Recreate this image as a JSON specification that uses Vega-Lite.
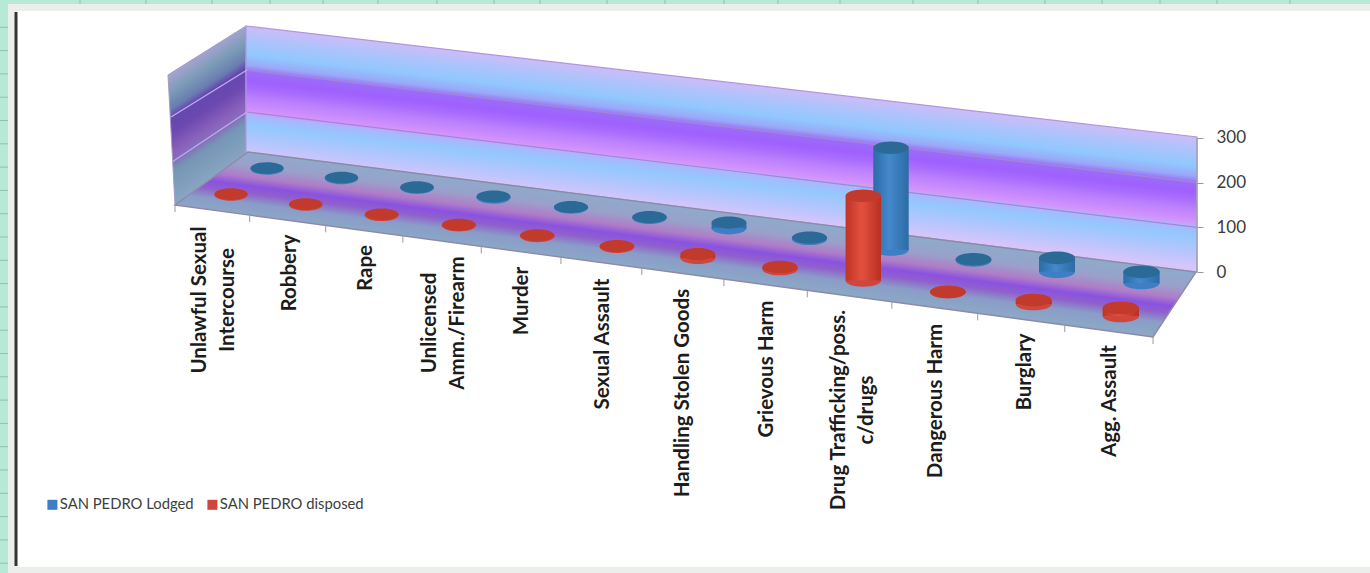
{
"$schema":"https://vega.github.io/schema/vega-lite/v6.json",
"width":1370,"height":573,"autosize":"none","padding":0,"background":"#b8e8d6",
"config":{"view":{"stroke":null}},
"datasets":{
"bars":[
{"crime":"Unlawful Sexual Intercourse","series":"SAN PEDRO Lodged","value":2},
{"crime":"Robbery","series":"SAN PEDRO Lodged","value":2},
{"crime":"Rape","series":"SAN PEDRO Lodged","value":2},
{"crime":"Unlicensed Amm./Firearm","series":"SAN PEDRO Lodged","value":3},
{"crime":"Murder","series":"SAN PEDRO Lodged","value":2},
{"crime":"Sexual Assault","series":"SAN PEDRO Lodged","value":2},
{"crime":"Handling Stolen Goods","series":"SAN PEDRO Lodged","value":13},
{"crime":"Grievous Harm","series":"SAN PEDRO Lodged","value":3},
{"crime":"Drug Trafficking/poss. c/drugs","series":"SAN PEDRO Lodged","value":228},
{"crime":"Dangerous Harm","series":"SAN PEDRO Lodged","value":3},
{"crime":"Burglary","series":"SAN PEDRO Lodged","value":31},
{"crime":"Agg. Assault","series":"SAN PEDRO Lodged","value":25},
{"crime":"Unlawful Sexual Intercourse","series":"SAN PEDRO disposed","value":2},
{"crime":"Robbery","series":"SAN PEDRO disposed","value":2},
{"crime":"Rape","series":"SAN PEDRO disposed","value":2},
{"crime":"Unlicensed Amm./Firearm","series":"SAN PEDRO disposed","value":2},
{"crime":"Murder","series":"SAN PEDRO disposed","value":2},
{"crime":"Sexual Assault","series":"SAN PEDRO disposed","value":2},
{"crime":"Handling Stolen Goods","series":"SAN PEDRO disposed","value":9},
{"crime":"Grievous Harm","series":"SAN PEDRO disposed","value":5},
{"crime":"Drug Trafficking/poss. c/drugs","series":"SAN PEDRO disposed","value":190},
{"crime":"Dangerous Harm","series":"SAN PEDRO disposed","value":1},
{"crime":"Burglary","series":"SAN PEDRO disposed","value":9},
{"crime":"Agg. Assault","series":"SAN PEDRO disposed","value":18}
],
"labels":[
{"label":"Unlawful Sexual\nIntercourse"},{"label":"Robbery"},{"label":"Rape"},{"label":"Unlicensed\nAmm./Firearm"},{"label":"Murder"},{"label":"Sexual Assault"},{"label":"Handling Stolen Goods"},{"label":"Grievous Harm"},{"label":"Drug Trafficking/poss.\nc/drugs"},{"label":"Dangerous Harm"},{"label":"Burglary"},{"label":"Agg. Assault"}
],
"sheet":[{"part":"frame"},{"part":"panel"}],
"edge":[{"part":"edge"}],
"rowsGrid":[{"n":1},{"n":2},{"n":3},{"n":4},{"n":5},{"n":6},{"n":7},{"n":8},{"n":9},{"n":10},{"n":11},{"n":12},{"n":13},{"n":14},{"n":15},{"n":16},{"n":17},{"n":18},{"n":19},{"n":20},{"n":21},{"n":22},{"n":23},{"n":24}],
"colsGrid":[{"col":80},{"col":146},{"col":212},{"col":270},{"col":323},{"col":378},{"col":437},{"col":494},{"col":540},{"col":607},{"col":665},{"col":724},{"col":778},{"col":840},{"col":913},{"col":978},{"col":1045},{"col":1102},{"col":1160},{"col":1217},{"col":1290}],
"backWall":[{"c":"a"},{"c":"b"}],
"sideWall":[{"c":"a"},{"c":"b"},{"c":"c"}],
"floor":[{"c":"a"},{"c":"b"},{"c":"d"},{"c":"e"}],
"levels":[{"level":100},{"level":200}],
"axisLine":[{"level":0}],
"ticks":[{"j":0},{"j":1},{"j":2},{"j":3},{"j":4},{"j":5},{"j":6},{"j":7},{"j":8},{"j":9},{"j":10},{"j":11},{"j":12}]
},
"data":{"name":"bars"},
"transform":[
{"window":[{"op":"row_number","as":"rn"}],"groupby":["series"]},
{"calculate":"datum.rn-1","as":"i"},
{"calculate":"datum.series=='SAN PEDRO Lodged'?267+datum.i*(74+0.5*datum.i):231+datum.i*(74.1+0.617*datum.i)","as":"px"},
{"calculate":"datum.series=='SAN PEDRO Lodged'?169+datum.i*(9.33+0.094*datum.i):195+datum.i*(9.9+0.1*datum.i)","as":"base"},
{"calculate":"(272-datum.base)/0.4467","as":"py0"},
{"calculate":"datum.py0+datum.value","as":"py"},
{"calculate":"16.5+0.15*datum.i","as":"rx"},
{"calculate":"datum.px-datum.rx","as":"pl"},
{"calculate":"datum.px+datum.rx","as":"pr"},
{"calculate":"4*datum.rx*datum.rx","as":"sz"}
],
"encoding":{
"x":{"field":"px","type":"quantitative","axis":null,"scale":{"domain":[0,1370],"nice":false,"zero":false}},
"y":{"field":"py","type":"quantitative","title":null,"scale":{"domain":[-673.8,608.9],"nice":false,"zero":false},
"axis":{"values":[0,100,200,300],"orient":"right","offset":-173,"domain":false,"grid":false,"tickSize":6,"tickColor":"#999999","labelFont":"Lato","labelFontSize":17,"labelColor":"#3a3a3a","labelPadding":13,"labelOverlap":false,"labelFlush":false,"labelBound":false,"title":null,"zindex":1}}
},
"layer":[
{"data":{"name":"rowsGrid"},"transform":[{"calculate":"0","as":"px"},{"calculate":"8","as":"pr"},{"calculate":"(272-(4+23.3*datum.n))/0.4467","as":"py"}],
 "mark":{"type":"rule","stroke":"#8cc4ac","strokeWidth":1},"encoding":{"x2":{"field":"pr"}}},
{"data":{"name":"colsGrid"},"transform":[{"calculate":"datum.col","as":"px"},{"calculate":"272/0.4467","as":"py"},{"calculate":"(272-4)/0.4467","as":"py2"}],
 "mark":{"type":"rule","stroke":"#8cc4ac","strokeWidth":1},"encoding":{"y2":{"field":"py2"}}},
{"data":{"name":"sheet"},"transform":[
 {"calculate":"datum.part=='frame'?8:17","as":"px"},{"calculate":"1370","as":"pr"},
 {"calculate":"(272-(datum.part=='frame'?4:11))/0.4467","as":"py"},{"calculate":"(272-(datum.part=='frame'?573:567))/0.4467","as":"py2"}],
 "mark":{"type":"rect"},"encoding":{"x2":{"field":"pr"},"y2":{"field":"py2"},"fill":{"field":"part","type":"nominal","legend":null,"scale":{"domain":["frame","panel"],"range":["#eceeec","#ffffff"]}}}},
{"data":{"name":"edge"},"transform":[{"calculate":"16","as":"px"},{"calculate":"(272-12)/0.4467","as":"py"},{"calculate":"(272-566)/0.4467","as":"py2"}],
 "mark":{"type":"rule","stroke":"#333333","strokeWidth":3},"encoding":{"y2":{"field":"py2"}}},
{"data":{"name":"sideWall"},"transform":[
 {"calculate":"{a:168,b:175,c:246}[datum.c]","as":"px"},
 {"calculate":"(272-{a:75,b:70.5,c:26}[datum.c])/0.4467","as":"py"},
 {"calculate":"(272-{a:75,b:205,c:153}[datum.c])/0.4467","as":"py2"}],
 "mark":{"type":"area","orient":"vertical","stroke":"#a49cc8","strokeWidth":1,
 "fill":{"gradient":"linear","x1":0,"y1":0.274,"x2":0.2,"y2":0.967,"stops":[
 {"offset":0,"color":"#a6a4d0"},{"offset":0.14,"color":"#7c9cb8"},{"offset":0.27,"color":"#6a7cb0"},{"offset":0.33,"color":"#6448b0"},{"offset":0.45,"color":"#6c48b0"},{"offset":0.6,"color":"#8a62bc"},{"offset":0.67,"color":"#8470bc"},{"offset":0.74,"color":"#7496b4"},{"offset":1,"color":"#8aa6c4"}]}},
 "encoding":{"y2":{"field":"py2"}}},
{"data":{"name":"backWall"},"transform":[
 {"calculate":"{a:246,b:1197}[datum.c]","as":"px"},
 {"calculate":"(272-{a:26,b:137}[datum.c])/0.4467","as":"py"},
 {"calculate":"(272-{a:152,b:272}[datum.c])/0.4467","as":"py2"}],
 "mark":{"type":"area","orient":"vertical","stroke":"#ae98dc","strokeWidth":1.2,
 "fill":{"gradient":"linear","x1":0,"y1":0,"x2":-0.199,"y2":0.44,"stops":[
 {"offset":0,"color":"#cdbcf8"},{"offset":0.12,"color":"#a8c4fc"},{"offset":0.22,"color":"#90c8fe"},{"offset":0.3,"color":"#9aa8f8"},{"offset":0.35,"color":"#9b6cf8"},{"offset":0.42,"color":"#9f60ff"},{"offset":0.48,"color":"#a96cfd"},{"offset":0.55,"color":"#bb80fc"},{"offset":0.655,"color":"#d494fb"},{"offset":0.685,"color":"#a9b6fc"},{"offset":0.76,"color":"#94c8fe"},{"offset":0.9,"color":"#b8c6fd"},{"offset":1,"color":"#d6c5fb"}]}},
 "encoding":{"y2":{"field":"py2"}}},
{"data":{"name":"floor"},"transform":[
 {"calculate":"{a:175,b:248,d:1153,e:1196}[datum.c]","as":"px"},
 {"calculate":"(272-{a:205,b:152,d:266.6,e:272}[datum.c])/0.4467","as":"py"},
 {"calculate":"(272-{a:205,b:214.9,d:337,e:272}[datum.c])/0.4467","as":"py2"}],
 "mark":{"type":"area","orient":"vertical","stroke":"#8d8aa8","strokeWidth":1.4,
 "fill":{"gradient":"linear","x1":0,"y1":-0.0515,"x2":-0.16,"y2":0.171,"stops":[
 {"offset":0,"color":"#8eaaca"},{"offset":0.22,"color":"#9aa0ca"},{"offset":0.4,"color":"#b07cc8"},{"offset":0.54,"color":"#8a52e0"},{"offset":0.66,"color":"#9060cc"},{"offset":0.82,"color":"#8a9cc8"},{"offset":1,"color":"#8ba6c6"}]}},
 "encoding":{"y2":{"field":"py2"}}},
{"data":{"name":"levels"},"transform":[{"calculate":"247","as":"px"},{"calculate":"1197","as":"pr"},
 {"calculate":"(272-(154-0.42*datum.level))/0.4467","as":"py"},{"calculate":"datum.level","as":"py2"}],
 "mark":{"type":"rule","stroke":"#a585d8","strokeWidth":1.2},"encoding":{"x2":{"field":"pr"},"y2":{"field":"py2"}}},
{"data":{"name":"levels"},"transform":[{"calculate":"247","as":"px"},{"calculate":"172-0.01*(datum.level-100)","as":"pr"},
 {"calculate":"(272-(154-0.42*datum.level))/0.4467","as":"py"},{"calculate":"(272-(207-0.45*datum.level))/0.4467","as":"py2"}],
 "mark":{"type":"rule","stroke":"#c4a8ee","strokeWidth":1.4},"encoding":{"x2":{"field":"pr"},"y2":{"field":"py2"}}},
{"data":{"name":"axisLine"},"transform":[{"calculate":"1197","as":"px"},{"calculate":"0","as":"py"},{"calculate":"300","as":"py2"}],
 "mark":{"type":"rule","stroke":"#a0a0a8","strokeWidth":1.2},"encoding":{"y2":{"field":"py2"}}},
{"data":{"name":"ticks"},"transform":[{"calculate":"175+datum.j*(74.1+0.617*datum.j)","as":"px"},
 {"calculate":"205+(datum.px-175)*0.135","as":"edgeY"},
 {"calculate":"(272-datum.edgeY)/0.4467","as":"py"},{"calculate":"(272-datum.edgeY-7)/0.4467","as":"py2"}],
 "mark":{"type":"rule","stroke":"#9a9a9a","strokeWidth":1},"encoding":{"y2":{"field":"py2"}}},
{"transform":[{"calculate":"datum.py0","as":"py"}],
 "mark":{"type":"point","filled":true,"opacity":1,"shape":"M-1,0A1,0.35,0,1,1,1,0A1,0.35,0,1,1,-1,0Z"},
 "encoding":{"size":{"field":"sz","type":"quantitative","scale":null,"legend":null},
 "color":{"field":"series","type":"nominal","title":null,"scale":{"domain":["SAN PEDRO Lodged","SAN PEDRO disposed"],"range":["#3d7ec4","#d0453c"]},
 "legend":{"orient":"none","legendX":45,"legendY":497,"direction":"horizontal","title":null,"symbolType":"square","symbolSize":100,"symbolStrokeWidth":0,"labelFont":"Lato","labelFontSize":14.8,"labelColor":"#404040","columnPadding":11,"labelOffset":0}}}},
{"transform":[{"filter":"datum.series=='SAN PEDRO Lodged'"}],
 "mark":{"type":"rect","fill":{"gradient":"linear","x1":0,"y1":0,"x2":1,"y2":0,"stops":[{"offset":0,"color":"#2a6ca6"},{"offset":0.45,"color":"#4588cc"},{"offset":1,"color":"#2b6ca4"}]}},
 "encoding":{"x":{"field":"pl","type":"quantitative"},"x2":{"field":"pr"},"y2":{"field":"py0"}}},
{"transform":[{"filter":"datum.series=='SAN PEDRO Lodged'"}],
 "mark":{"type":"point","filled":true,"opacity":1,"fill":"#2b6a97","shape":"M-1,0A1,0.35,0,1,1,1,0A1,0.35,0,1,1,-1,0Z"},
 "encoding":{"size":{"field":"sz","type":"quantitative","scale":null,"legend":null}}},
{"transform":[{"filter":"datum.series=='SAN PEDRO disposed'"}],
 "mark":{"type":"rect","fill":{"gradient":"linear","x1":0,"y1":0,"x2":1,"y2":0,"stops":[{"offset":0,"color":"#bd3426"},{"offset":0.45,"color":"#e4503f"},{"offset":1,"color":"#b82f22"}]}},
 "encoding":{"x":{"field":"pl","type":"quantitative"},"x2":{"field":"pr"},"y2":{"field":"py0"}}},
{"transform":[{"filter":"datum.series=='SAN PEDRO disposed'"}],
 "mark":{"type":"point","filled":true,"opacity":1,"fill":"#c23a2c","shape":"M-1,0A1,0.35,0,1,1,1,0A1,0.35,0,1,1,-1,0Z"},
 "encoding":{"size":{"field":"sz","type":"quantitative","scale":null,"legend":null}}},
{"data":{"name":"labels"},"transform":[
 {"window":[{"op":"row_number","as":"rn"}]},
 {"calculate":"datum.rn-1","as":"i"},
 {"calculate":"[200,290,366,430,522,603,683,767,839,936,1025,1110][datum.i]","as":"px"},
 {"calculate":"(272-[300,273,268,323,301,344,393,369,410,401,372,401][datum.i])/0.4467","as":"py"}],
 "mark":{"type":"text","angle":270,"align":"center","baseline":"middle","lineBreak":"\n","lineHeight":28,"font":"Lato","fontWeight":"bold","fontSize":20.5,"fill":"#1c1c1c"},
 "encoding":{"text":{"field":"label","type":"nominal"}}}
]
}
